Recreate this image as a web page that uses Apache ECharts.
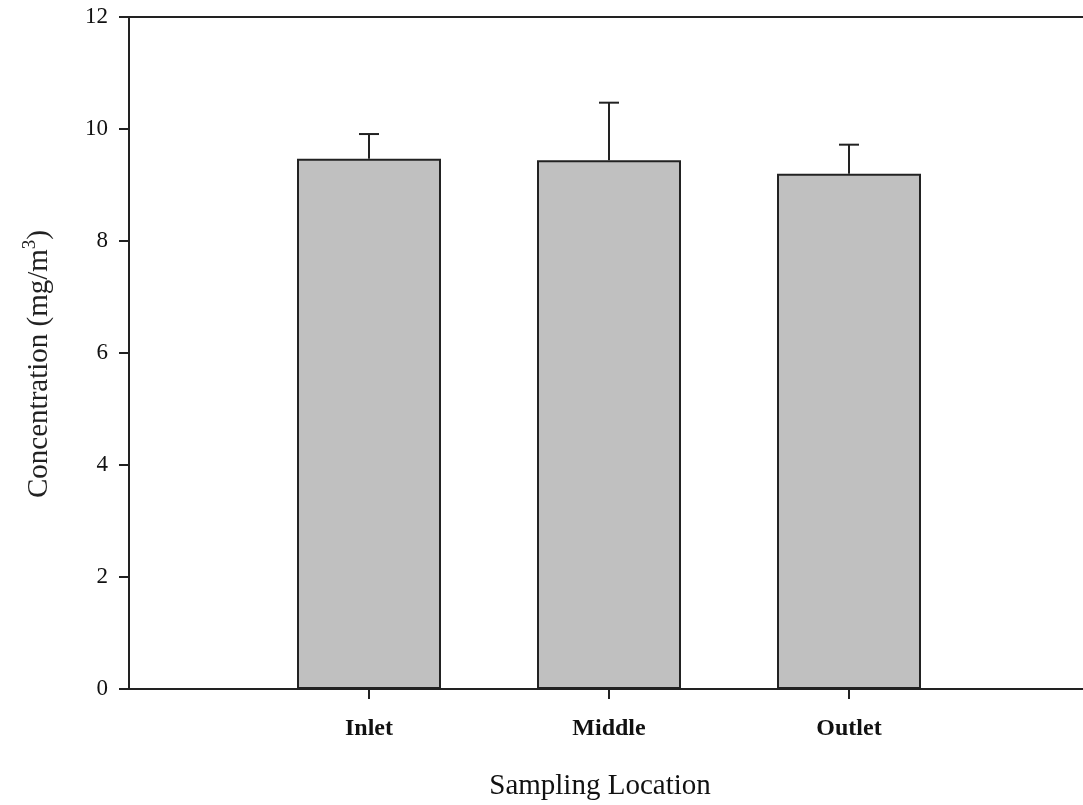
<!DOCTYPE html>
<html>
<head>
<meta charset="utf-8">
<script src="https://cdn.jsdelivr.net/npm/echarts@6/dist/echarts.min.js"></script>
<style>html,body{margin:0;padding:0;background:#fff;overflow:hidden}#c{width:1100px;height:805px}</style>
</head>
<body>
<div id="c"></div>
<script>
const categories = ['', 'Inlet', 'Middle', 'Outlet', ''];
const means = [null, 9.47, 9.44, 9.20, null];
const errors = [null, 0.44, 1.03, 0.52, null];
const yTicks = [0, 2, 4, 6, 8, 10, 12];

const FONT = '"Liberation Serif", "DejaVu Serif", serif';
const chart = echarts.init(document.getElementById('c'));

const errData = categories.map((c, i) => means[i] == null ? null : [i, means[i], means[i] + errors[i]]).filter(d => d);

chart.setOption({
  animation: false,
  grid: { left: 129, top: 17, bottom: 116, right: 11 },
  xAxis: [
    {
      type: 'category',
      data: categories,
      boundaryGap: false,
      axisLine: { lineStyle: { color: '#222', width: 2 } },
      axisTick: { show: true, length: 10, lineStyle: { color: '#222', width: 2 }, interval: (i, v) => v !== '' },
      axisLabel: { color: '#111', fontFamily: FONT, fontSize: 24, fontWeight: 'bold', margin: 28, interval: 0 },
      splitLine: { show: false }
    },
    {
      type: 'category',
      data: categories,
      boundaryGap: false,
      position: 'top',
      axisLine: { show: true, lineStyle: { color: '#222', width: 2 } },
      axisTick: { show: false },
      axisLabel: { show: false },
      splitLine: { show: false }
    }
  ],
  yAxis: {
    type: 'value',
    min: yTicks[0],
    max: yTicks[yTicks.length - 1],
    interval: 2,
    axisLine: { show: true, lineStyle: { color: '#222', width: 2 } },
    axisTick: { show: true, length: 10, lineStyle: { color: '#222', width: 2 } },
    axisLabel: { color: '#111', fontFamily: FONT, fontSize: 23, margin: 21 },
    splitLine: { show: false }
  },
  graphic: [
    {
      type: 'text', x: 600, y: 786,
      style: { text: 'Sampling Location', font: '29px ' + FONT, fill: '#111', align: 'center', verticalAlign: 'middle' }
    },
    {
      type: 'text', x: 39, y: 364, rotation: Math.PI / 2,
      style: {
        text: '{n|Concentration (mg/m}{s|3}{n|)}',
        align: 'center', verticalAlign: 'middle',
        rich: {
          n: { fontFamily: FONT, fontSize: 29, fill: '#222' },
          s: { fontFamily: FONT, fontSize: 19, fill: '#222', verticalAlign: 'top', padding: [0, 0, 18, 0] }
        }
      }
    }
  ],
  series: [
    {
      type: 'bar',
      data: means,
      barWidth: 144,
      itemStyle: { color: '#c0c0c0', borderColor: '#222', borderWidth: 2 },
      z: 2
    },
    {
      type: 'custom',
      data: errData,
      z: 3,
      renderItem: function (params, api) {
        const x = api.value(0);
        const top = api.coord([x, api.value(2)]);
        const base = api.coord([x, api.value(1)]);
        const half = 10;
        const st = { stroke: '#222', lineWidth: 2 };
        return {
          type: 'group',
          children: [
            { type: 'line', shape: { x1: top[0], y1: top[1], x2: base[0], y2: base[1] }, style: st },
            { type: 'line', shape: { x1: top[0] - half, y1: top[1], x2: top[0] + half, y2: top[1] }, style: st }
          ]
        };
      }
    }
  ]
});
</script>
</body>
</html>
